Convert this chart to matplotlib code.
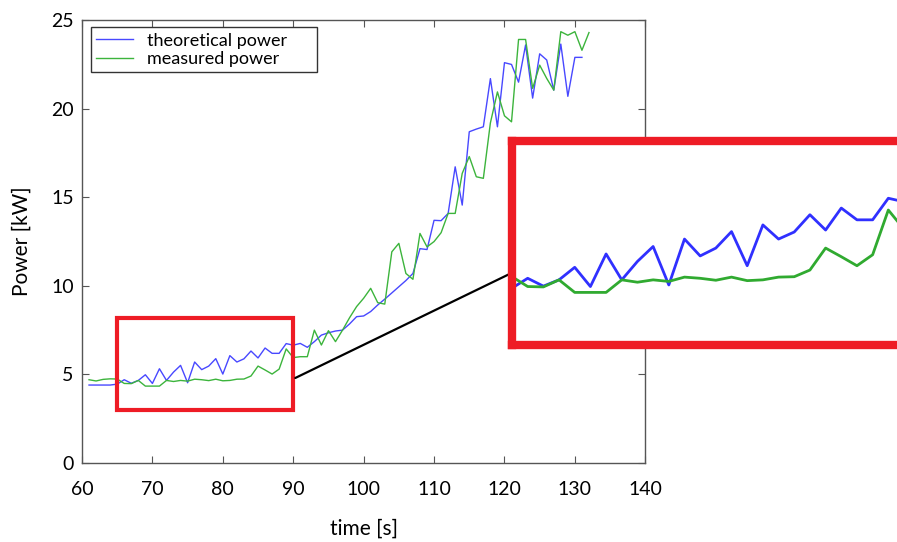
import matplotlib
matplotlib.use("Agg")
import matplotlib.pyplot as plt
from matplotlib.patches import Rectangle, ConnectionPatch

plt.rcParams['font.family'] = ['Lato', 'DejaVu Sans']

t_theo = list(range(61, 132))
p_theo = [4.40, 4.40, 4.40, 4.40, 4.45, 4.70, 4.50, 4.66, 4.98, 4.49,
          5.32, 4.66, 5.13, 5.51, 4.53, 5.70, 5.27, 5.47, 5.89, 5.02,
          6.06, 5.70, 5.88, 6.32, 5.93, 6.49, 6.19, 6.19, 6.74, 6.65,
          6.75, 6.53, 6.85, 7.22, 7.35, 7.45, 7.50, 7.85, 8.26, 8.30,
          8.55, 8.92, 9.25, 9.60, 9.95, 10.3, 10.7, 12.1, 12.05, 13.7,
          13.68, 14.09, 16.72, 14.56, 18.7, 18.85, 18.98, 21.7, 18.98, 22.6,
          22.5, 21.5, 23.6, 20.6, 23.1, 22.75, 21.05, 23.65, 20.7, 22.9,
          22.9]

t_meas = list(range(61, 133))
p_meas = [4.70, 4.63, 4.72, 4.75, 4.74, 4.49, 4.48, 4.66, 4.34, 4.34,
          4.34, 4.66, 4.60, 4.66, 4.62, 4.73, 4.70, 4.65, 4.73, 4.64,
          4.66, 4.73, 4.74, 4.91, 5.47, 5.25, 5.02, 5.30, 6.44, 5.95,
          6.00, 6.00, 7.50, 6.66, 7.47, 6.85, 7.50, 8.20, 8.83, 9.30,
          9.86, 9.05, 8.97, 11.92, 12.4, 10.7, 10.37, 12.96, 12.2, 12.5,
          13.0, 14.09, 14.09, 16.35, 17.3, 16.16, 16.07, 19.2, 20.95, 19.6,
          19.26, 23.91, 23.91, 21.15, 22.46, 21.71, 21.05, 24.35, 24.15, 24.35,
          23.3, 24.3]

x_ticks = [60, 70, 80, 90, 100, 110, 120, 130, 140]
y_ticks = [0, 5, 10, 15, 20, 25]
zoom_x = (65, 90)
zoom_y = (3, 8.2)

blue = '#4848ff'
green = '#3cb43c'
red = '#ee1c25'

fig = plt.figure(figsize=(8.97, 5.42), dpi=100)
ax = fig.add_axes([0.0914, 0.1458, 0.628, 0.817])
ax.plot(t_theo, p_theo, color=blue, lw=1.0, label='theoretical power')
ax.plot(t_meas, p_meas, color=green, lw=1.0, label='measured power')
ax.set_xlim(60, 140)
ax.set_ylim(0, 25)
ax.set_xticks(x_ticks)
ax.set_yticks(y_ticks)
for s in ax.spines.values():
    s.set_color('#555555')
    s.set_linewidth(1.0)
ax.tick_params(direction='in', length=5, color='#555555', top=True, right=True,
               labelsize=14)
ax.tick_params(axis='x', pad=13)
ax.tick_params(axis='y', pad=6)
ax.set_xlabel('time [s]', fontsize=15, labelpad=15)
ax.set_ylabel('Power [kW]', fontsize=15, labelpad=14)

# legend frame (wide, as in the original)
ax.add_patch(Rectangle((0.016, 0.8826), 0.4014, 0.1014, transform=ax.transAxes,
                       facecolor='white', edgecolor='#333333', lw=1.0, zorder=6))
leg = ax.legend(loc='upper left', bbox_to_anchor=(0.016, 0.984), fontsize=13,
                frameon=False, handlelength=2.0, borderpad=0.3,
                labelspacing=0.12, borderaxespad=0, handletextpad=0.8)
leg.set_zorder(7)

ax.add_patch(Rectangle((zoom_x[0], zoom_y[0]), zoom_x[1] - zoom_x[0],
                       zoom_y[1] - zoom_y[0], fill=False, edgecolor=red,
                       lw=3, zorder=5))

ins = fig.add_axes([0.5708, 0.3635, 0.437, 0.3764])
ins.plot(t_theo, p_theo, color='#3030ff', lw=2.0)
ins.plot(t_meas, p_meas, color='#30aa30', lw=2.0)
ins.set_xlim(*zoom_x)
ins.set_ylim(*zoom_y)
ins.set_xticks([])
ins.set_yticks([])
for s in ins.spines.values():
    s.set_color(red)
    s.set_linewidth(6)
ins.set_zorder(10)

con = ConnectionPatch(xyA=(90.3, 4.8), coordsA=ax.transData,
                      xyB=(zoom_x[0], 4.84), coordsB=ins.transData,
                      color='black', lw=1.6)
fig.add_artist(con)

fig.savefig('out.png', dpi=100)
